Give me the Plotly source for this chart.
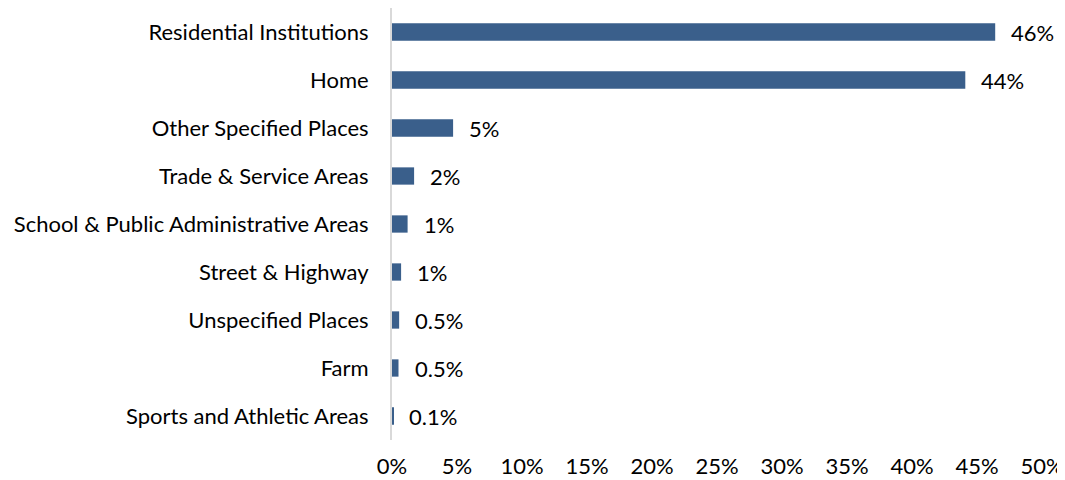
import plotly.graph_objects as go

categories = [
    "Residential Institutions",
    "Home",
    "Other Specified Places",
    "Trade & Service Areas",
    "School & Public Administrative Areas",
    "Street & Highway",
    "Unspecified Places",
    "Farm",
    "Sports and Athletic Areas",
]
values = [46.4, 44.1, 4.7, 1.7, 1.2, 0.7, 0.55, 0.5, 0.1]
labels = ["46%", "44%", "5%", "2%", "1%", "1%", "0.5%", "0.5%", "0.1%"]
tick_vals = [0, 5, 10, 15, 20, 25, 30, 35, 40, 45, 50]
tick_text = ["0%", "5%", "10%", "15%", "20%", "25%", "30%", "35%", "40%", "45%", "50%"]

FONT = "Lato"
TXT = "#000000"
FS = 22

fig = go.Figure()
fig.add_trace(go.Bar(
    y=categories, x=values, orientation="h",
    marker=dict(color="#3A5F8B", line=dict(width=0)),
    hoverinfo="skip",
))

for c, v, t in zip(categories, values, labels):
    fig.add_annotation(
        x=v, y=c, text=t, showarrow=False, xanchor="left", yanchor="middle",
        xshift=14, font=dict(family=FONT, size=FS, color=TXT),
    )

fig.update_layout(
    width=1057, height=472,
    margin=dict(l=384, r=23, t=0, b=40),
    paper_bgcolor="white", plot_bgcolor="white",
    bargap=0.64,
    showlegend=False,
    font=dict(family=FONT, size=FS, color=TXT),
)
fig.update_xaxes(
    range=[0, 50], tickvals=tick_vals, ticktext=tick_text,
    showgrid=False, zeroline=False, showline=False,
    ticks="", ticklabelstandoff=11, automargin=False,
    tickfont=dict(family=FONT, size=FS, color=TXT),
)
fig.update_yaxes(
    categoryorder="array", categoryarray=categories[::-1],
    showgrid=False, zeroline=False,
    showline=True, linecolor="#D9D9D9", linewidth=2,
    ticks="", ticklabelstandoff=17, automargin=False,
    tickfont=dict(family=FONT, size=FS, color=TXT),
)

fig.write_html("out.html")
